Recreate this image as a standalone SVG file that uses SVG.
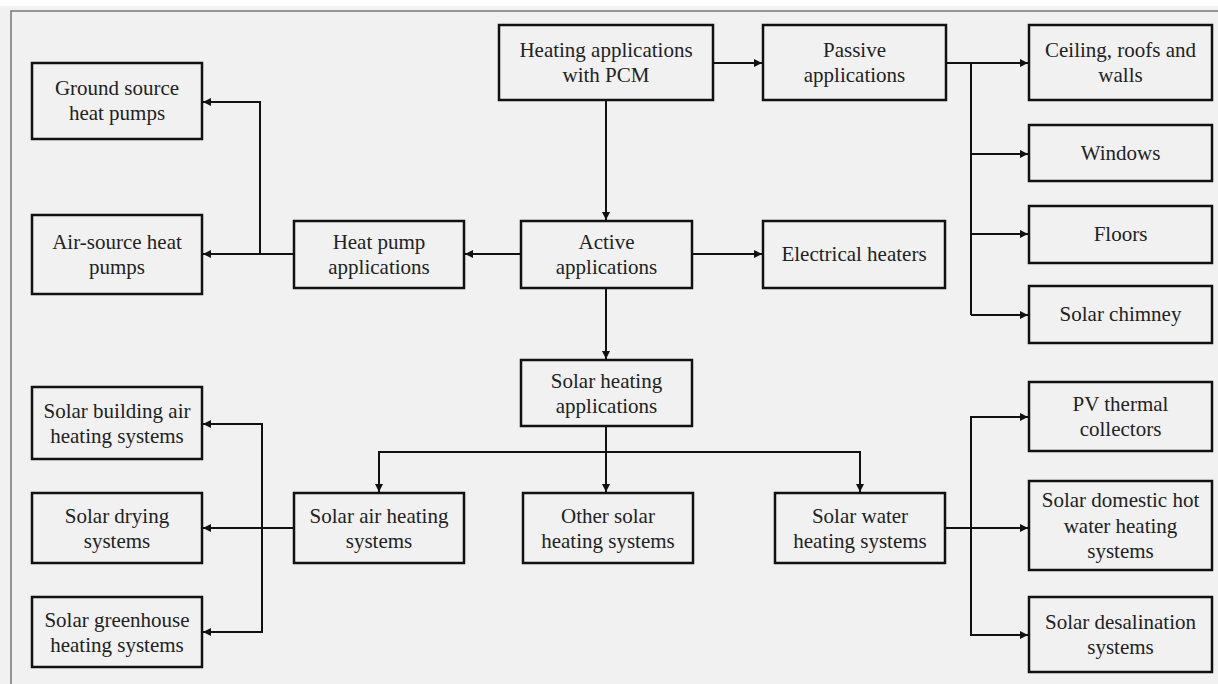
<svg xmlns="http://www.w3.org/2000/svg" width="1218" height="684" viewBox="0 0 1218 684">
<style>
.box rect{fill:#f1f1f1;stroke:#111;stroke-width:2.5}
.box text{font-family:'Liberation Serif','Times New Roman',serif;font-size:21px;fill:#222;text-anchor:middle}
.conn path{fill:none;stroke:#111;stroke-width:2}
</style>
<defs>
<marker id="ah" viewBox="0 0 8 8" refX="8" refY="4" markerWidth="4" markerHeight="4" orient="auto" markerUnits="strokeWidth">
<path d="M0,0 L8,4 L0,8 z" fill="#111"/>
</marker>
</defs>
<rect x="0" y="0" width="1218" height="684" fill="#ffffff"/>
<rect x="0" y="6" width="1218" height="678" fill="#f1f1f1"/>
<path d="M11,684 V11 H1218" fill="none" stroke="#777" stroke-width="1.5"/>

<g id="n-pcm" class="box"><rect x="499" y="25" width="214" height="75"/><text x="606" y="57">Heating applications</text><text x="606" y="82">with PCM</text></g>
<g id="n-passive" class="box"><rect x="763" y="25" width="183" height="75"/><text x="854.5" y="57">Passive</text><text x="854.5" y="82">applications</text></g>
<g id="n-ceiling" class="box"><rect x="1029" y="25" width="183" height="75"/><text x="1120.5" y="57">Ceiling, roofs and</text><text x="1120.5" y="82">walls</text></g>
<g id="n-windows" class="box"><rect x="1029" y="125" width="183" height="56"/><text x="1120.5" y="160">Windows</text></g>
<g id="n-floors" class="box"><rect x="1029" y="206" width="183" height="57"/><text x="1120.5" y="241">Floors</text></g>
<g id="n-chimney" class="box"><rect x="1029" y="286" width="183" height="57"/><text x="1120.5" y="321">Solar chimney</text></g>
<g id="n-ground" class="box"><rect x="32" y="63" width="170" height="76"/><text x="117" y="95">Ground source</text><text x="117" y="120">heat pumps</text></g>
<g id="n-air" class="box"><rect x="32" y="215" width="170" height="79"/><text x="117" y="249">Air-source heat</text><text x="117" y="274">pumps</text></g>
<g id="n-heatpump" class="box"><rect x="294" y="221" width="170" height="67"/><text x="379" y="249">Heat pump</text><text x="379" y="274">applications</text></g>
<g id="n-active" class="box"><rect x="521" y="221" width="171" height="67"/><text x="606.5" y="249">Active</text><text x="606.5" y="274">applications</text></g>
<g id="n-electrical" class="box"><rect x="763" y="221" width="182" height="67"/><text x="854" y="261">Electrical heaters</text></g>
<g id="n-solarapps" class="box"><rect x="521" y="360" width="171" height="66"/><text x="606.5" y="388">Solar heating</text><text x="606.5" y="413">applications</text></g>
<g id="n-building" class="box"><rect x="32" y="387" width="170" height="72"/><text x="117" y="418">Solar building air</text><text x="117" y="443">heating systems</text></g>
<g id="n-drying" class="box"><rect x="32" y="493" width="170" height="70"/><text x="117" y="523">Solar drying</text><text x="117" y="548">systems</text></g>
<g id="n-greenhouse" class="box"><rect x="32" y="597" width="170" height="70"/><text x="117" y="627">Solar greenhouse</text><text x="117" y="652">heating systems</text></g>
<g id="n-solarair" class="box"><rect x="294" y="493" width="170" height="70"/><text x="379" y="523">Solar air heating</text><text x="379" y="548">systems</text></g>
<g id="n-other" class="box"><rect x="523" y="493" width="170" height="70"/><text x="608" y="523">Other solar</text><text x="608" y="548">heating systems</text></g>
<g id="n-solarwater" class="box"><rect x="775" y="493" width="170" height="70"/><text x="860" y="523">Solar water</text><text x="860" y="548">heating systems</text></g>
<g id="n-pv" class="box"><rect x="1029" y="382" width="183" height="69"/><text x="1120.5" y="411">PV thermal</text><text x="1120.5" y="436">collectors</text></g>
<g id="n-domestic" class="box"><rect x="1029" y="481" width="183" height="89"/><text x="1120.5" y="507">Solar domestic hot</text><text x="1120.5" y="533">water heating</text><text x="1120.5" y="558">systems</text></g>
<g id="n-desal" class="box"><rect x="1029" y="597" width="183" height="75"/><text x="1120.5" y="629">Solar desalination</text><text x="1120.5" y="654">systems</text></g>

<g id="connectors" class="conn">
<path d="M713,63 H762" marker-end="url(#ah)"/>
<path d="M946,63 H1028" marker-end="url(#ah)"/>
<path d="M971,63 V315"/>
<path d="M971,154 H1028" marker-end="url(#ah)"/>
<path d="M971,234 H1028" marker-end="url(#ah)"/>
<path d="M971,315 H1028" marker-end="url(#ah)"/>
<path d="M606,100 V220" marker-end="url(#ah)"/>
<path d="M521,254 H465" marker-end="url(#ah)"/>
<path d="M692,254 H762" marker-end="url(#ah)"/>
<path d="M294,254 H203" marker-end="url(#ah)"/>
<path d="M260,254 V102 H203" marker-end="url(#ah)"/>
<path d="M606,288 V359" marker-end="url(#ah)"/>
<path d="M606,426 V492" marker-end="url(#ah)"/>
<path d="M379,492 V452 H860 V492" marker-end="url(#ah)"/>
<path d="M379,452 V492" marker-end="url(#ah)"/>
<path d="M294,528 H203" marker-end="url(#ah)"/>
<path d="M262,528 V424 H203" marker-end="url(#ah)"/>
<path d="M262,528 V632 H203" marker-end="url(#ah)"/>
<path d="M945,528 H1028" marker-end="url(#ah)"/>
<path d="M971,528 V417 H1028" marker-end="url(#ah)"/>
<path d="M971,528 V635 H1028" marker-end="url(#ah)"/>
</g>
</svg>
